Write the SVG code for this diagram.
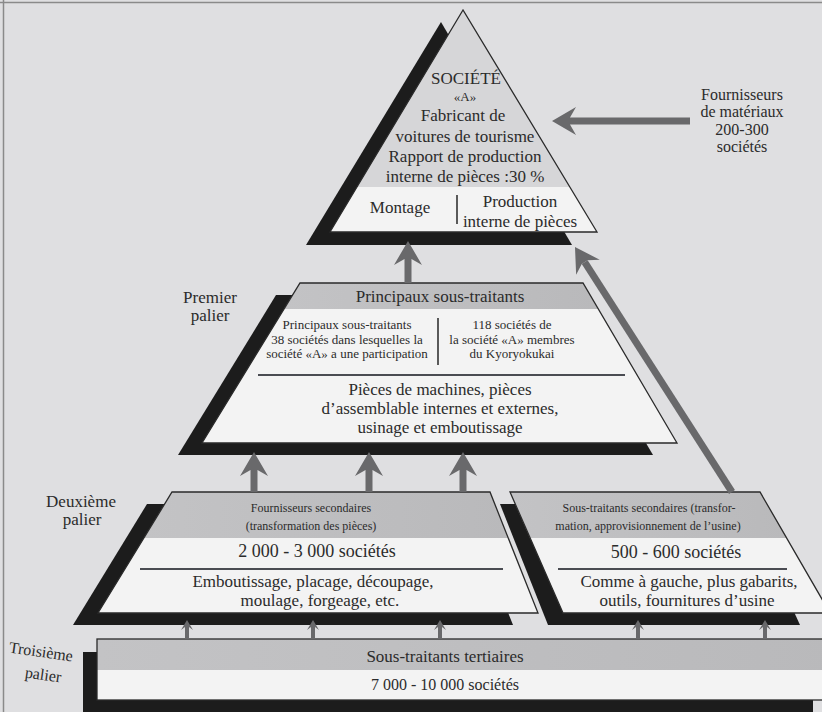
<svg xmlns="http://www.w3.org/2000/svg" width="822" height="712" viewBox="0 0 822 712">
<defs>
<marker id="headL" viewBox="0 0 24 28" refX="6" refY="14" markerWidth="24" markerHeight="28" orient="auto" markerUnits="userSpaceOnUse"><path d="M24,14 L0,0 L6,10.5 L6,17.5 L0,28 Z" fill="#69696b"/></marker>
<marker id="headS" viewBox="0 0 10 12" refX="3" refY="6" markerWidth="10" markerHeight="12" orient="auto" markerUnits="userSpaceOnUse"><path d="M10,6 L0,0 L3,4 L3,8 L0,12 Z" fill="#69696b"/></marker>
<linearGradient id="band" x1="0" y1="0" x2="1" y2="0"><stop offset="0" stop-color="#c3c3c5"/><stop offset="1" stop-color="#b9b9bb"/></linearGradient>
</defs>
<style>
.bg{fill:#dfdfe1}
.shadow{fill:#1c1c1c}
.white{fill:#f3f3f3}
.lgray{fill:#d6d6d8}
.outline{fill:none;stroke:#2a2a2a;stroke-width:1.3}
.rule{stroke:#4a4c52;stroke-width:2}
.div{stroke:#333;stroke-width:1.6}
text{font-family:"Liberation Serif","DejaVu Serif","Times New Roman",serif;fill:#2b2b2b;text-anchor:middle}
.t18{font-size:18px}
.t17{font-size:17px}
.t16{font-size:16px}
.t13{font-size:13px}
.t12{font-size:12px}
.arrow{stroke:#69696b;fill:none}
.big{stroke-width:7;marker-end:url(#headL)}
.small{stroke-width:4;marker-end:url(#headS)}
</style>
<rect class="bg" x="0" y="0" width="822" height="712"/>
<line x1="0" y1="2.5" x2="822" y2="2.5" stroke="#8a8a8a" stroke-width="1.5"/>
<line x1="3.5" y1="0" x2="3.5" y2="712" stroke="#8a8a8a" stroke-width="1.5"/>

<g id="societe-a">
<polygon class="shadow" points="441,22 306,245 572,245"/>
<polygon class="lgray" points="463,10 357,187 570,187"/>
<polygon class="white" points="357,187 570,187 597,232 330,232"/>
<polygon class="outline" points="463,10 330,232 597,232"/>
<text class="t17" x="466" y="84">SOCIÉTÉ</text>
<text class="t13" x="465" y="101">«A»</text>
<text class="t17" x="463" y="121">Fabricant de</text>
<text class="t17" x="465" y="142">voitures de tourisme</text>
<text class="t17" x="465" y="162">Rapport de production</text>
<text class="t17" x="465" y="182">interne de pièces :30 %</text>
<text class="t17" x="400" y="213">Montage</text>
<line class="div" x1="457" y1="195" x2="457" y2="224"/>
<text class="t17" x="520" y="207">Production</text>
<text class="t17" x="520" y="227">interne de pièces</text>
</g>

<g id="fournisseurs-materiaux">
<text class="t16" x="742" y="100">Fournisseurs</text>
<text class="t16" x="742" y="117">de matériaux</text>
<text class="t16" x="742" y="135">200-300</text>
<text class="t16" x="742" y="152">sociétés</text>
</g>

<g id="premier-palier">
<text class="t17" x="210" y="303">Premier</text>
<text class="t17" x="210" y="321">palier</text>
<polygon class="shadow" points="276,295 559,295 653,455 178,455"/>
<polygon class="white" points="300,283 583,283 677,443 202,443"/>
<polygon fill="url(#band)" points="300,283 583,283 598,309 284,309"/>
<polygon class="outline" points="300,283 583,283 677,443 202,443"/>
<text class="t17" x="440" y="302">Principaux sous-traitants</text>
<text class="t13" x="347" y="329">Principaux sous-traitants</text>
<text class="t13" x="347" y="344">38 sociétés dans lesquelles la</text>
<text class="t13" x="347" y="358">société «A» a une participation</text>
<line class="div" x1="438" y1="318" x2="438" y2="365"/>
<text class="t13" x="512" y="329">118 sociétés de</text>
<text class="t13" x="512" y="344">la société «A» membres</text>
<text class="t13" x="512" y="358">du Kyoryokukai</text>
<line class="rule" x1="258" y1="375" x2="625" y2="375"/>
<text class="t17" x="440" y="395">Pièces de machines, pièces</text>
<text class="t17" x="440" y="414">d’assemblable internes et externes,</text>
<text class="t17" x="440" y="433">usinage et emboutissage</text>
</g>

<g id="deuxieme-fournisseurs">
<text class="t17" x="81" y="507">Deuxième</text>
<text class="t17" x="82" y="525">palier</text>
<polygon class="shadow" points="147,504 465,504 513,625 73,625"/>
<polygon class="white" points="172,492 490,492 538,613 98,613"/>
<polygon fill="url(#band)" points="172,492 490,492 508,538 144,538"/>
<polygon class="outline" points="172,492 490,492 538,613 98,613"/>
<text class="t12" x="311" y="512">Fournisseurs secondaires</text>
<text class="t12" x="311" y="530">(transformation des pièces)</text>
<text class="t18" x="317" y="557">2 000 - 3 000 sociétés</text>
<line class="rule" x1="140" y1="569" x2="503" y2="569"/>
<text class="t17" x="313" y="587">Emboutissage, placage, découpage,</text>
<text class="t17" x="320" y="606">moulage, forgeage, etc.</text>
</g>

<g id="deuxieme-sous-traitants">
<polygon class="shadow" points="500,504 745,504 800,625 548,625"/>
<polygon class="white" points="510,492 760,492 830,613 563,613"/>
<polygon fill="url(#band)" points="510,492 760,492 787,538 530,538"/>
<polygon class="outline" points="510,492 760,492 830,613 563,613"/>
<text class="t12" x="649" y="512">Sous-traitants secondaires (transfor-</text>
<text class="t12" x="648" y="530">mation, approvisionnement de l’usine)</text>
<text class="t18" x="676" y="558">500 - 600 sociétés</text>
<line class="rule" x1="558" y1="569" x2="787" y2="569"/>
<text class="t17" x="689" y="587">Comme à gauche, plus gabarits,</text>
<text class="t17" x="687" y="606">outils, fournitures d’usine</text>
</g>

<g id="troisieme-palier">
<text class="t16" x="41" y="657" transform="rotate(8 41 652)">Troisième</text>
<text class="t16" x="43" y="680" transform="rotate(8 43 676)">palier</text>
<rect class="shadow" x="83" y="652" width="730" height="62"/>
<rect class="white" x="97" y="639" width="740" height="61"/>
<rect fill="url(#band)" x="97" y="639" width="740" height="31"/>
<rect class="outline" x="97" y="639" width="740" height="61"/>
<text class="t17" x="445" y="662">Sous-traitants tertiaires</text>
<text class="t16" x="445" y="690">7 000 - 10 000 sociétés</text>
</g>

<g id="connectors">
<line class="arrow big" x1="690" y1="121" x2="570" y2="121"/>
<line class="arrow big" x1="408" y1="283" x2="408" y2="259"/>
<line class="arrow big" x1="732" y1="492" x2="584.7" y2="262.2"/>
<line class="arrow big" x1="254" y1="492" x2="254" y2="470"/>
<line class="arrow big" x1="369" y1="492" x2="369" y2="470"/>
<line class="arrow big" x1="463" y1="492" x2="463" y2="470"/>
<line class="arrow small" x1="187" y1="639" x2="187" y2="627"/>
<line class="arrow small" x1="313" y1="639" x2="313" y2="627"/>
<line class="arrow small" x1="440" y1="639" x2="440" y2="627"/>
<line class="arrow small" x1="638" y1="639" x2="638" y2="627"/>
<line class="arrow small" x1="765" y1="639" x2="765" y2="627"/>
</g>
</svg>
